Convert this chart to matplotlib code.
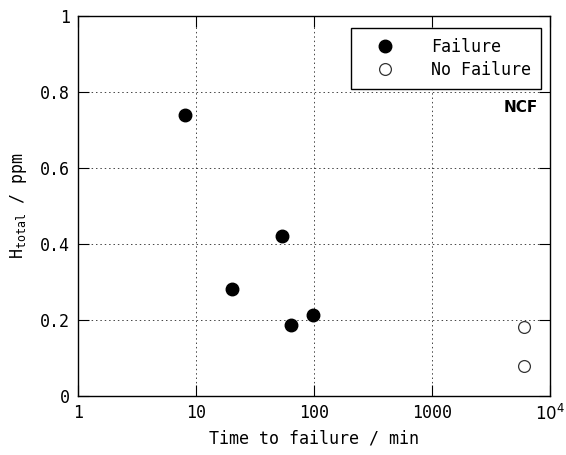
import matplotlib
matplotlib.use("Agg")
import matplotlib.pyplot as plt

# dados
t_falha = [8.1, 20.2, 53.9, 63.5, 97.5]
h_falha = [0.739, 0.281, 0.422, 0.186, 0.212]
t_sem_falha = [6000, 6000]
h_sem_falha = [0.181, 0.079]

x_ticks = [1, 10, 100, 1000, 10000]
x_labels = ['1', '10', '100', '1000', r'$10^4$']
y_ticks = [0, 0.2, 0.4, 0.6, 0.8, 1]
y_labels = ['0', '0.2', '0.4', '0.6', '0.8', '1']

plt.rcParams['font.family'] = ['DejaVu Sans Mono']
plt.rcParams['mathtext.fontset'] = 'dejavusans'

fig = plt.figure(figsize=(5.66, 4.55), dpi=100)
ax = fig.add_axes([0.138, 0.130, 0.834, 0.835])

ax.plot(t_falha, h_falha, 'o', color='black', markersize=9, label='Failure')
ax.plot(t_sem_falha, h_sem_falha, 'o', markerfacecolor='white', markeredgecolor='#333333',
        markeredgewidth=0.9, markersize=8.5, label='No Failure')

ax.set_xscale('log')
ax.set_xlim(1, 10000)
ax.set_ylim(0, 1)
ax.set_xticks(x_ticks)
ax.set_xticklabels(x_labels)
ax.set_yticks(y_ticks)
ax.set_yticklabels(y_labels)
ax.minorticks_off()
ax.tick_params(direction='in', length=8, width=0.8, top=True, right=True, labelsize=12, pad=6)

ax.grid(True, linestyle=(0, (1.5, 3)), color='#444444', linewidth=0.7)
for s in ax.spines.values():
    s.set_linewidth(1.0)

ax.set_xlabel('Time to failure / min', fontsize=12, labelpad=4)
ax.set_ylabel(r'H$_{\mathregular{total}}$ / ppm', fontsize=12, labelpad=8)

ax.text(0.975, 0.758, 'NCF', transform=ax.transAxes, ha='right', va='center',
        fontsize=11, fontfamily='DejaVu Sans', fontweight='bold')

leg = ax.legend(loc='upper right', bbox_to_anchor=(0.981, 0.968), borderaxespad=0,
                fontsize=12, fancybox=False, framealpha=1, edgecolor='black',
                borderpad=0.6, handletextpad=1.3, labelspacing=0.3, handlelength=2.9)
leg.get_frame().set_linewidth(1.0)

plt.savefig('out.png', dpi=100)
plt.close()
